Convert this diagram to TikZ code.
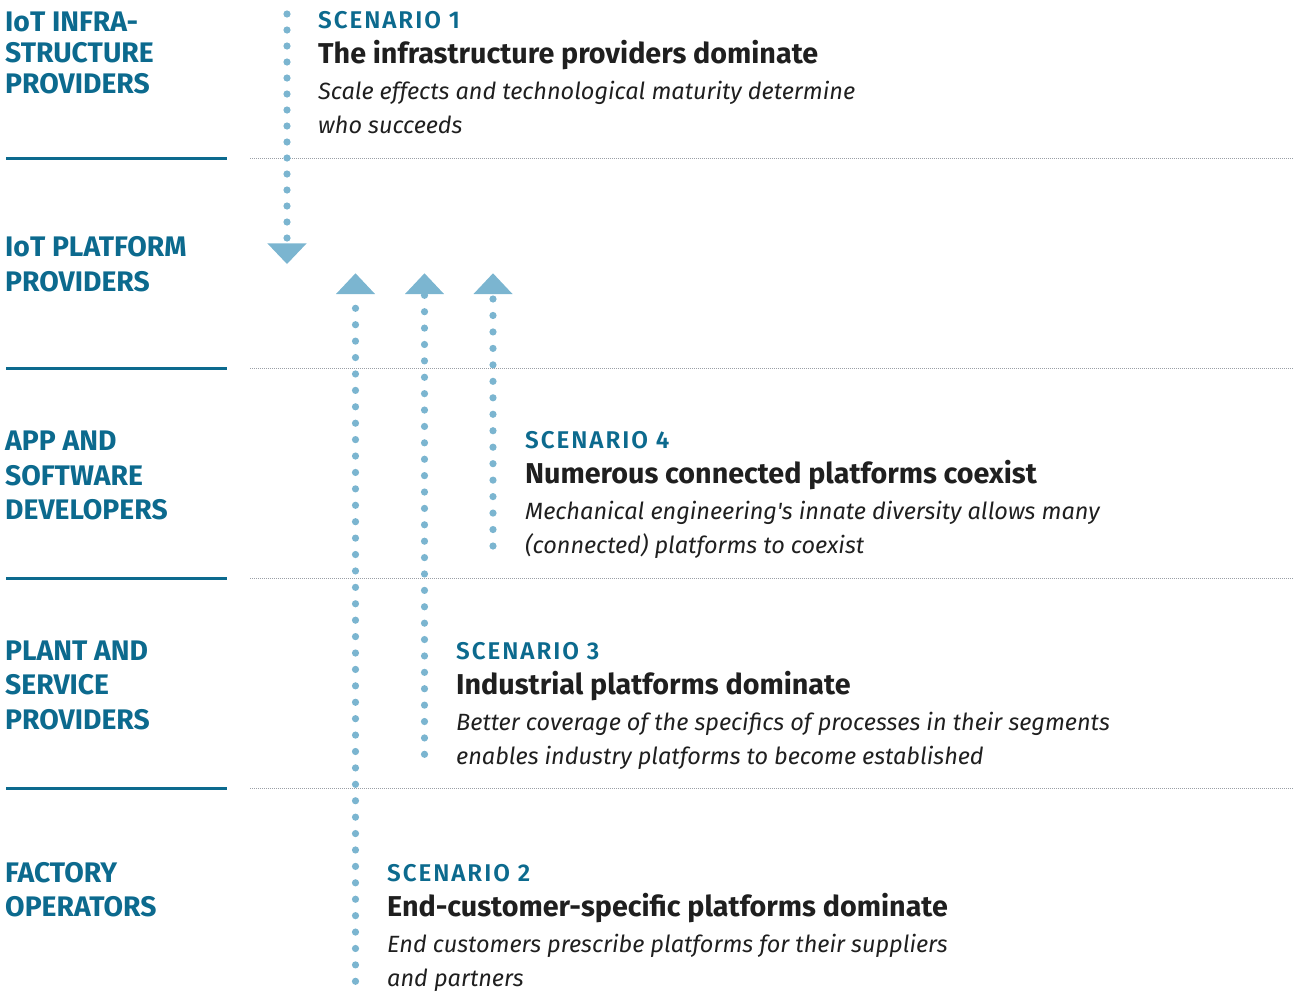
\documentclass[tikz,border=0pt]{standalone}
\usepackage{fontspec}
\usetikzlibrary{decorations.markings}
\setmainfont{Fira Sans}[Ligatures=TeXOff]
\newfontfamily\semif{Fira Sans SemiBold}[LetterSpace=8]
\definecolor{teal1}{HTML}{0C6A8E}
\definecolor{dotblue}{HTML}{7BB5D0}
\definecolor{ink}{HTML}{1F1F1F}
\definecolor{sepgray}{HTML}{9A9FA6}
\begin{document}
\begin{tikzpicture}[x=1pt,y=-1pt,
 lbl/.style={anchor=base west, inner sep=0pt, text=teal1, font=\bfseries\fontsize{28.3}{28.3}\selectfont},
 scen/.style={anchor=base west, inner sep=0pt, text=teal1, font=\semif\fontsize{24.2}{24.2}\selectfont},
 ttl/.style={anchor=base west, inner sep=0pt, text=ink, font=\bfseries\fontsize{28.7}{28.7}\selectfont},
 desc/.style={anchor=base west, inner sep=0pt, text=ink, font=\itshape\fontsize{23.5}{23.5}\selectfont},
 rulebar/.style={line width=3.2pt, teal1},
 sepline/.style={line width=0.9pt, sepgray, dash pattern=on 1pt off 1pt},
 dotline/.style={postaction={decorate}, decoration={markings,
   mark=between positions 0 and 1 step #1 with {\fill[dotblue] (0,0) circle (3.6pt);}}},
 tri/.style={fill=dotblue}
]
\useasboundingbox (0,0) rectangle (1299,991);

% left labels
\node[lbl] (l1a) at (5,31) {IoT INFRA-};
\node[lbl] (l1b) at (5,62) {STRUCTURE};
\node[lbl] (l1c) at (5,93) {PROVIDERS};
\node[lbl] (l2a) at (5,256) {IoT PLATFORM};
\node[lbl] (l2b) at (5,291) {PROVIDERS};
\node[lbl] (l3a) at (5,450) {APP AND};
\node[lbl] (l3b) at (5,485) {SOFTWARE};
\node[lbl] (l3c) at (5,519.5) {DEVELOPERS};
\node[lbl] (l4a) at (5,660.5) {PLANT AND};
\node[lbl] (l4b) at (5,694.5) {SERVICE};
\node[lbl] (l4c) at (5,729.5) {PROVIDERS};
\node[lbl] (l5a) at (5,882.5) {FACTORY};
\node[lbl] (l5b) at (5,916.5) {OPERATORS};

% separators
\foreach \yy/\nm in {158.3/a,368.3/b,578.3/c,788.3/d}{
  \coordinate (r\nm1) at (6,\yy);
  \coordinate (r\nm2) at (227,\yy);
  \coordinate (g\nm1) at (250,\yy);
  \coordinate (g\nm2) at (1293,\yy);
  \draw[rulebar] (r\nm1) -- (r\nm2);
  \draw[sepline] (g\nm1) -- (g\nm2);
}

% scenario 1 (downward)
\coordinate (s1a) at (287,14);
\coordinate (s1b) at (287,238.5);
\coordinate (s1tip) at (287,264);
\path[dotline=16pt] (s1a) -- (s1b);
\fill[tri] (s1tip) -- ++(-19.7,-20.7) -- ++(39.4,0) -- cycle;

% scenario 2 (upward)
\coordinate (s2a) at (355.5,981.8);
\coordinate (s2b) at (355.5,308.3);
\coordinate (s2tip) at (355.5,273.3);
\path[dotline=16.4146pt] (s2b) -- (s2a);
\fill[tri] (s2tip) -- ++(-19.5,20.7) -- ++(39,0) -- cycle;

% scenario 3 (upward)
\coordinate (s3a) at (424.5,754.8);
\coordinate (s3b) at (424.5,295.3);
\coordinate (s3tip) at (424.5,273.3);
\path[dotline=16.393pt] (s3b) -- (s3a);
\fill[tri] (s3tip) -- ++(-19.5,20.7) -- ++(39,0) -- cycle;

% scenario 4 (upward)
\coordinate (s4a) at (493,546.5);
\coordinate (s4b) at (493,299);
\coordinate (s4tip) at (493,273.3);
\path[dotline=16.467pt] (s4b) -- (s4a);
\fill[tri] (s4tip) -- ++(-19.5,20.7) -- ++(39,0) -- cycle;

% scenario texts
\node[scen] (t1a) at (318,28.3) {SCENARIO 1};
\node[ttl]  (t1b) at (318,63.3) {The infrastructure providers dominate};
\node[desc] (t1c) at (318,99) {Scale effects and technological maturity determine};
\node[desc] (t1d) at (318,133) {who succeeds};

\node[scen] (t4a) at (525,448.3) {SCENARIO 4};
\node[ttl]  (t4b) at (525,483.3) {Numerous connected platforms coexist};
\node[desc] (t4c) at (525,519) {Mechanical engineering's innate diversity allows many};
\node[desc] (t4d) at (525,553) {(connected) platforms to coexist};

\node[scen] (t3a) at (456,659.3) {SCENARIO 3};
\node[ttl]  (t3b) at (456,694.3) {Industrial platforms dominate};
\node[desc] (t3c) at (456,730) {Better coverage of the specifics of processes in their segments};
\node[desc] (t3d) at (456,764) {enables industry platforms to become established};

\node[scen] (t2a) at (387,881.3) {SCENARIO 2};
\node[ttl]  (t2b) at (387,916.3) {End-customer-specific platforms dominate};
\node[desc] (t2c) at (387,952) {End customers prescribe platforms for their suppliers};
\node[desc] (t2d) at (387,986) {and partners};
\end{tikzpicture}
\end{document}
